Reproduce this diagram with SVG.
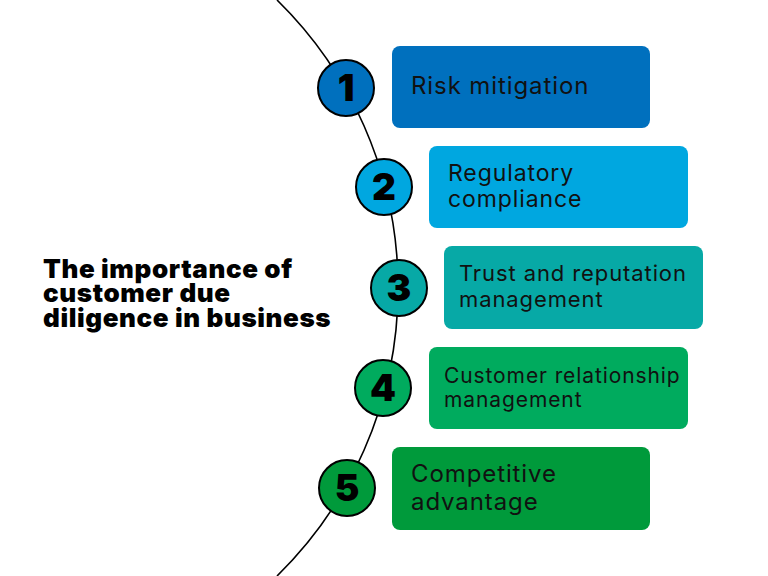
<svg xmlns="http://www.w3.org/2000/svg" width="768" height="576" viewBox="0 0 768 576">
<style>
.box{stroke:none}
.lbl{font-family:Inter,"Liberation Sans",sans-serif;font-size:22px;fill:#111;letter-spacing:0.9px}
.num{font-family:Inter,"Liberation Sans",sans-serif;font-size:37px;font-weight:900;fill:#000;text-anchor:middle}
.dot{stroke:#000;stroke-width:2}
.title{font-family:Inter,"Liberation Sans",sans-serif;font-size:26px;font-weight:900;fill:#000;letter-spacing:0.6px}
</style>
<rect width="768" height="576" fill="#fff"/>
<g id="connectors">
<path d="M 277 0 A 403 403 0 0 1 277 576" fill="none" stroke="#000" stroke-width="1.6"/>
</g>
<g id="title">
<text class="title" x="43" y="278">The importance of</text>
<text class="title" x="43" y="302">customer due</text>
<text class="title" x="43" y="327">diligence in business</text>
</g>
<g id="node1">
<rect class="box" x="392" y="46" width="258" height="82" rx="8" fill="#0070BE"/>
<text class="lbl" x="411" y="94" style="font-size:24px">Risk mitigation</text>
<circle class="dot" cx="346" cy="88" r="28" fill="#0070BE"/>
<text class="num" x="346" y="101">1</text>
</g>
<g id="node2">
<rect class="box" x="429" y="146" width="259" height="82" rx="8" fill="#00A7E0"/>
<text class="lbl" x="448" y="181" style="font-size:23px">Regulatory</text>
<text class="lbl" x="448" y="207" style="font-size:23px">compliance</text>
<circle class="dot" cx="384" cy="187" r="28" fill="#00A7E0"/>
<text class="num" x="384" y="200">2</text>
</g>
<g id="node3">
<rect class="box" x="444" y="246" width="259" height="83" rx="8" fill="#07A9A6"/>
<text class="lbl" x="459" y="281">Trust and reputation</text>
<text class="lbl" x="459" y="307">management</text>
<circle class="dot" cx="399" cy="288" r="28" fill="#07A9A6"/>
<text class="num" x="399" y="301">3</text>
</g>
<g id="node4">
<rect class="box" x="429" y="347" width="259" height="82" rx="8" fill="#00AB5E"/>
<text class="lbl" x="444" y="383" style="font-size:21px">Customer relationship</text>
<text class="lbl" x="444" y="407" style="font-size:21px">management</text>
<circle class="dot" cx="383" cy="388" r="28" fill="#00AB5E"/>
<text class="num" x="383" y="401">4</text>
</g>
<g id="node5">
<rect class="box" x="392" y="447" width="258" height="83" rx="8" fill="#009A3B"/>
<text class="lbl" x="411" y="482" style="font-size:24px">Competitive</text>
<text class="lbl" x="411" y="510" style="font-size:24px">advantage</text>
<circle class="dot" cx="347" cy="488" r="28" fill="#009A3B"/>
<text class="num" x="347" y="501">5</text>
</g>
</svg>
